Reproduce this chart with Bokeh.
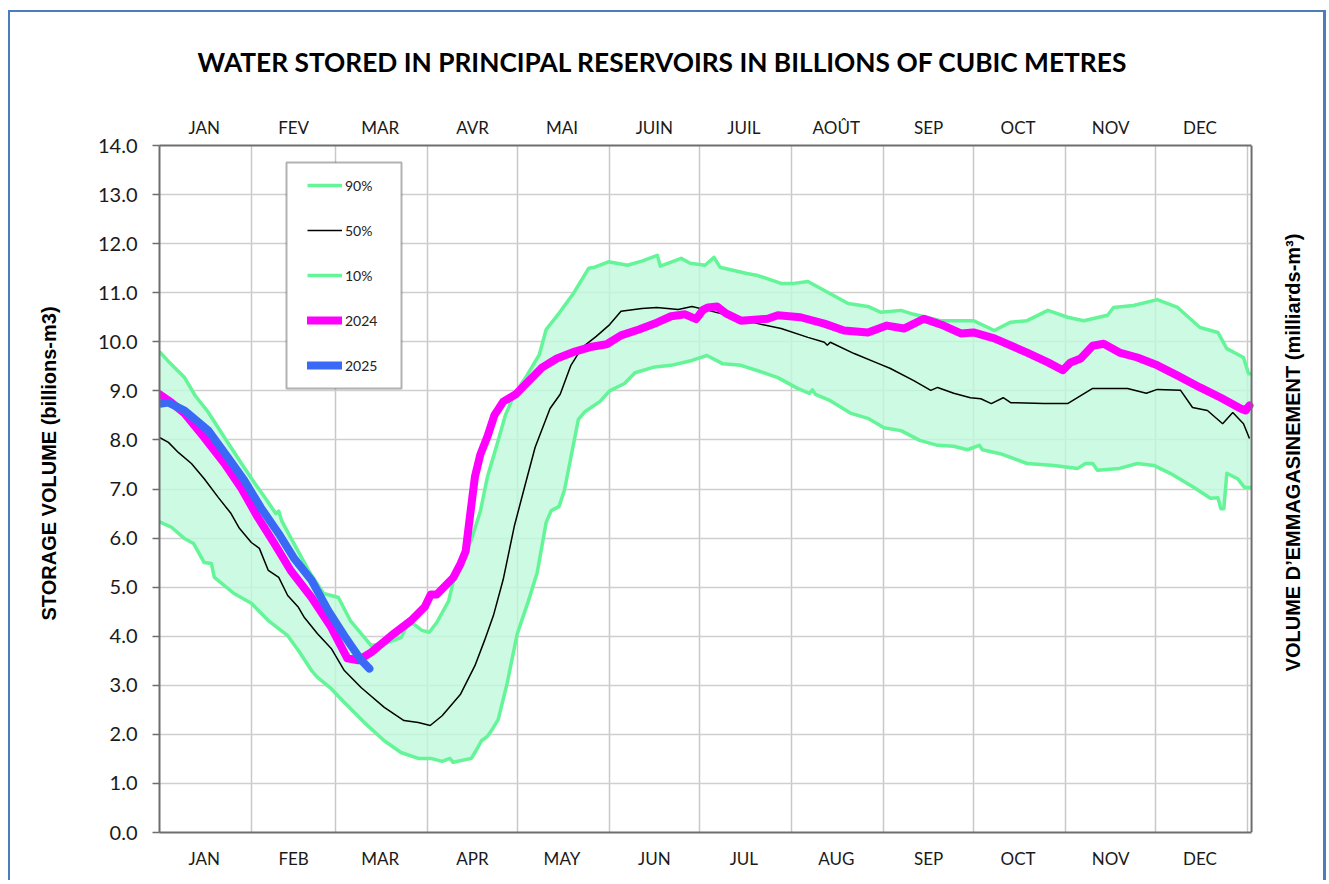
import math
from bokeh.plotting import figure
from bokeh.models import (Range1d, FixedTicker, LinearAxis, NumeralTickFormatter,
                          Legend, LegendItem, BoxAnnotation, Title, Span)
from bokeh.embed import file_html
from bokeh.resources import INLINE
from bokeh.core.properties import value

# ---------------- data ----------------
months_fr = ["JAN", "FEV", "MAR", "AVR", "MAI", "JUIN", "JUIL", "AOÛT", "SEP", "OCT", "NOV", "DEC"]
months_en = ["JAN", "FEB", "MAR", "APR", "MAY", "JUN", "JUL", "AUG", "SEP", "OCT", "NOV", "DEC"]
month_mid_days = [15, 45, 74, 105, 135, 166, 196, 227, 258, 288, 319, 349]
month_start_days = [31, 59, 90, 120, 151, 181, 212, 243, 273, 304, 334, 365]
y_ticks = list(range(0, 15))
YEAR_END = 366.3

p90_day = [0, 3, 8.4, 12, 16.4, 21.8, 27.5, 32, 36, 39, 40, 41, 44, 50, 55, 57.6, 60, 64, 71, 76, 81,
           83, 85, 88, 90.5, 93, 97, 98.5, 104.5, 107.6, 110, 113.6, 116, 119, 123, 127.4, 129.7, 134,
           139, 144, 146, 150.6, 157, 162, 167, 168, 175, 178, 183, 186, 188, 197, 200.7, 208.5, 212.8,
           217.5, 225, 231, 237.6, 242, 248.7, 253, 262, 268, 273, 280, 285.5, 291, 298, 304.6, 310,
           318, 320, 326.7, 334.7, 341.5, 349, 355, 358, 363.6, 365.3, 366.3]
p90_val = [9.80, 9.60, 9.27, 8.90, 8.56, 8.05, 7.52, 7.11, 6.77, 6.50, 6.55, 6.35, 6.01, 5.34, 4.87,
           4.83, 4.79, 4.32, 3.81, 3.86, 3.97, 4.22, 4.26, 4.12, 4.08, 4.28, 4.72, 5.11, 5.95, 6.54, 7.25,
           7.99, 8.50, 8.93, 9.29, 9.74, 10.25, 10.58, 11.00, 11.50, 11.52, 11.63, 11.56, 11.65, 11.76,
           11.54, 11.70, 11.60, 11.56, 11.72, 11.52, 11.39, 11.35, 11.19, 11.19, 11.23, 10.98, 10.78,
           10.72, 10.60, 10.64, 10.56, 10.43, 10.43, 10.43, 10.23, 10.40, 10.43, 10.64, 10.50, 10.43,
           10.54, 10.70, 10.74, 10.86, 10.70, 10.29, 10.19, 9.86, 9.68, 9.35, 9.35]

p10_day = [0, 4, 8.4, 11.4, 15, 17.4, 18.4, 25, 30.8, 36.5, 43, 46.6, 51, 53, 57.6, 62, 68.7, 75.4, 81,
           86.8, 91, 94.8, 97.4, 98.5, 104.6, 106, 108, 110, 111.6, 113.6, 116.6, 120, 123.7, 126.7,
           129.7, 131.4, 134, 135.8, 140.5, 142.8, 147.7, 151, 156, 159.5, 165.5, 171.6, 178.6, 183.6,
           189, 195, 200.7, 207.4, 214, 218, 219, 220, 225, 232, 237.6, 243, 248.7, 255, 261, 266.4,
           271, 275, 276, 282, 291, 300, 308, 310.6, 313, 314.6, 322, 328, 333.5, 339, 347, 352.5,
           355, 356, 357, 358, 361.6, 364, 366.3]
p10_val = [6.33, 6.22, 5.99, 5.89, 5.50, 5.48, 5.20, 4.87, 4.67, 4.32, 4.01, 3.71, 3.30, 3.16, 2.93,
           2.65, 2.24, 1.87, 1.63, 1.51, 1.51, 1.45, 1.51, 1.43, 1.51, 1.65, 1.87, 1.96, 2.10, 2.30,
           3.04, 4.05, 4.71, 5.30, 6.32, 6.56, 6.64, 6.97, 8.42, 8.58, 8.78, 9.00, 9.15, 9.37, 9.48,
           9.52, 9.62, 9.72, 9.55, 9.52, 9.41, 9.27, 9.05, 8.95, 9.02, 8.93, 8.80, 8.54, 8.44, 8.25,
           8.19, 7.99, 7.89, 7.87, 7.80, 7.89, 7.80, 7.72, 7.52, 7.48, 7.42, 7.52, 7.52, 7.38, 7.42,
           7.52, 7.48, 7.32, 7.03, 6.81, 6.82, 6.60, 6.60, 7.32, 7.21, 7.03, 7.03]

p50_day = [0, 3, 6.4, 10.7, 15, 19.7, 24, 26.8, 30.8, 33.5, 36.5, 40, 43, 46.6, 48.6, 53, 57.6, 62,
           67.7, 75.4, 82, 86.8, 90.8, 94.8, 100.9, 105.8, 109, 112, 115.3, 119, 122.5, 126, 131,
           134.4, 138, 141.7, 146.5, 151, 154.8, 161.8, 166.8, 174, 178.6, 184, 190, 200.7, 208.5,
           217.5, 223, 224, 225, 233, 241, 245, 253, 258.7, 261, 266.4, 272, 275.5, 279, 283, 285.5,
           296.6, 304.6, 313, 324.7, 331, 334.7, 342.5, 346.5, 351.5, 356.6, 360, 363.6, 365.6]
p50_val = [8.05, 7.95, 7.74, 7.52, 7.21, 6.83, 6.50, 6.20, 5.91, 5.79, 5.34, 5.20, 4.83, 4.59, 4.38,
           4.05, 3.75, 3.30, 2.95, 2.55, 2.28, 2.24, 2.18, 2.38, 2.81, 3.40, 3.91, 4.42, 5.16, 6.24,
           7.05, 7.85, 8.64, 8.93, 9.52, 9.88, 10.11, 10.35, 10.62, 10.68, 10.70, 10.66, 10.72, 10.64,
           10.55, 10.37, 10.27, 10.09, 9.99, 9.93, 9.99, 9.76, 9.56, 9.46, 9.21, 9.01, 9.07, 8.95,
           8.86, 8.84, 8.74, 8.86, 8.76, 8.74, 8.74, 9.05, 9.05, 8.95, 9.03, 9.01, 8.66, 8.60, 8.33,
           8.56, 8.33, 8.03]

y2024_day = [0, 4, 8.4, 15, 21.8, 27.5, 33, 38.5, 44, 51, 57.6, 63, 66.7, 71, 77.7, 84.4, 89, 91, 93,
             98.5, 101, 102.7, 104, 105.8, 107.6, 110, 112.3, 115.3, 119.5, 123.7, 128.4, 133.3,
             139.3, 145, 150, 154.8, 160.8, 166.8, 171.6, 176.3, 180, 182.3, 184, 187, 190, 195, 204,
             207.4, 215, 223, 229.6, 237.6, 244, 249.7, 256.4, 263, 268.8, 273, 280, 291, 298, 303,
             305.6, 309, 313, 316.7, 322, 328, 334.7, 341.5, 349, 356, 362.6, 364.3, 365.6]
y2024_val = [8.93, 8.76, 8.54, 8.05, 7.52, 7.01, 6.42, 5.89, 5.34, 4.79, 4.18, 3.55, 3.51, 3.67, 4.01,
             4.32, 4.60, 4.85, 4.85, 5.19, 5.48, 5.73, 6.38, 7.25, 7.70, 8.07, 8.50, 8.78, 8.93, 9.19,
             9.48, 9.66, 9.80, 9.90, 9.95, 10.13, 10.25, 10.39, 10.52, 10.56, 10.46, 10.65, 10.70,
             10.72, 10.58, 10.43, 10.47, 10.54, 10.50, 10.37, 10.23, 10.19, 10.33, 10.27, 10.47,
             10.33, 10.17, 10.19, 10.07, 9.78, 9.58, 9.42, 9.58, 9.66, 9.92, 9.96, 9.78, 9.68, 9.52,
             9.31, 9.07, 8.86, 8.64, 8.60, 8.70]

y2025_day = [0.7, 3, 8.4, 16.4, 23, 28.5, 34, 40, 45, 51, 56.6, 62, 65.4, 67.7, 70.4]
y2025_val = [8.74, 8.76, 8.60, 8.19, 7.64, 7.17, 6.62, 6.09, 5.60, 5.14, 4.52, 4.01, 3.71, 3.51, 3.34]

# ---------------- styling ----------------
GREEN = "#63f597"
AXIS = "#6e6e6e"
PX_PER_DAY = 1093 / YEAR_END          # width of the year in the plot area
FRAME_W = 1160                        # frame extends into the right margin (for the right-hand title)
X_END = FRAME_W / PX_PER_DAY

p = figure(width=1326, height=880, x_range=Range1d(0, X_END), y_range=Range1d(0, 14),
           output_backend="svg", toolbar_location=None,
           min_border_left=158, min_border_right=8, min_border_top=145, min_border_bottom=48,
           background_fill_color="white", border_fill_alpha=0, outline_line_color=None)
p.styles = {"box-shadow": "inset 8px 10px 0 white, inset 10px 12px 0 #4a7ebb, inset -3px 0 0 #4a7ebb"}

# title
p.title.text = "WATER STORED IN PRINCIPAL RESERVOIRS IN BILLIONS OF CUBIC METRES"
p.title.text_font = "Lato"
p.title.text_font_style = "bold"
p.title.text_font_size = "26.3px"
p.title.text_color = "black"
p.title.align = "left"
p.title.offset = 38
p.title.standoff = 72

# grid
p.xgrid.ticker = FixedTicker(ticks=month_start_days)
p.ygrid.ticker = FixedTicker(ticks=y_ticks)
p.xgrid.grid_line_color = "#c8c8c8"
p.ygrid.grid_line_color = "#cfcfcf"
p.xgrid.grid_line_width = 1.5
p.ygrid.grid_line_width = 1.5

# white margin to the right of the year (hides grid lines there)
p.add_layout(BoxAnnotation(left=YEAR_END, right=X_END + 5, fill_color="white", fill_alpha=1,
                           line_alpha=0, level="underlay"))

# band between 10% and 90%
band_x = p90_day + p10_day[::-1]
band_y = p90_val + p10_val[::-1]
p.patch(band_x, band_y, fill_color="#c0f9dc", fill_alpha=0.8, line_alpha=0)

r10 = p.line(p10_day, p10_val, line_color=GREEN, line_width=3.5, line_join="round")
r90 = p.line(p90_day, p90_val, line_color=GREEN, line_width=3.5, line_join="round")
r50 = p.line(p50_day, p50_val, line_color="black", line_width=1.5)
r24 = p.line(y2024_day, y2024_val, line_color="#ff00ff", line_width=8, line_cap="round", line_join="round")
r25 = p.line(y2025_day, y2025_val, line_color="#3a6af5", line_width=8, line_cap="round", line_join="round")

# right edge of the plot area
p.add_layout(Span(location=YEAR_END, dimension="height", line_color=AXIS, line_width=2))

# x axes
bottom = p.xaxis[0]
bottom.ticker = FixedTicker(ticks=month_mid_days)
bottom.major_label_overrides = {d: m for d, m in zip(month_mid_days, months_en)}
top = LinearAxis(ticker=FixedTicker(ticks=month_mid_days),
                 major_label_overrides={d: m for d, m in zip(month_mid_days, months_fr)})
p.add_layout(top, "above")
for ax, so in ((bottom, 15), (top, 8)):
    ax.bounds = (0, YEAR_END)
    ax.major_tick_line_color = None
    ax.minor_tick_line_color = None
    ax.major_tick_out = 0
    ax.major_tick_in = 0
    ax.axis_line_color = AXIS
    ax.axis_line_width = 2
    ax.major_label_text_font = "Lato"
    ax.major_label_text_font_size = "17px"
    ax.major_label_text_color = "#1a1a1a"
    ax.major_label_standoff = so

# left y axis
yax = p.yaxis[0]
yax.ticker = FixedTicker(ticks=y_ticks)
yax.formatter = NumeralTickFormatter(format="0.0")
yax.major_tick_out = 7
yax.major_tick_in = 0
yax.major_tick_line_color = AXIS
yax.major_tick_line_width = 1.5
yax.minor_tick_line_color = None
yax.axis_line_color = AXIS
yax.axis_line_width = 2
yax.major_label_text_font = "Lato"
yax.major_label_text_font_size = "20px"
yax.major_label_text_color = "#1a1a1a"
yax.major_label_standoff = 15

# left axis title
left_title = Title(text="STORAGE VOLUME (billions-m3)", align="left", offset=212, standoff=70,
                   text_font="Liberation Sans", text_font_style="bold", text_font_size="20px",
                   text_color="black")
p.add_layout(left_title, "left")

# right axis title (drawn in the extended frame margin, reading bottom-to-top)
p.text(x=[(1292 - 158) / PX_PER_DAY], y=[(832 - 452) / 49.07],
       text=["VOLUME D’EMMAGASINEMENT (milliards-m³)"], angle=math.pi / 2,
       text_align="center", text_baseline="middle", text_color="black",
       text_font=value("Liberation Sans"), text_font_style="bold", text_font_size="20px")

# legend box + legend
box = BoxAnnotation(left=127, right=242, bottom=444, top=670,
                    left_units="screen", right_units="screen", top_units="screen", bottom_units="screen",
                    fill_color="white", fill_alpha=1, line_color="black", line_width=2)
p.add_layout(box)
legend = Legend(items=[LegendItem(label=value("90%"), renderers=[r90]),
                       LegendItem(label=value("50%"), renderers=[r50]),
                       LegendItem(label=value("10%"), renderers=[r10]),
                       LegendItem(label=value("2024"), renderers=[r24]),
                       LegendItem(label=value("2025"), renderers=[r25])],
                location=(148, 457), padding=0, margin=0, spacing=25,
                label_height=20, glyph_height=20, glyph_width=35, label_standoff=3,
                background_fill_alpha=0, border_line_alpha=0,
                label_text_font="Lato", label_text_font_size="14px", label_text_color="#222222")
p.add_layout(legend, "center")

open("out.html", "w").write(file_html(p, INLINE))
